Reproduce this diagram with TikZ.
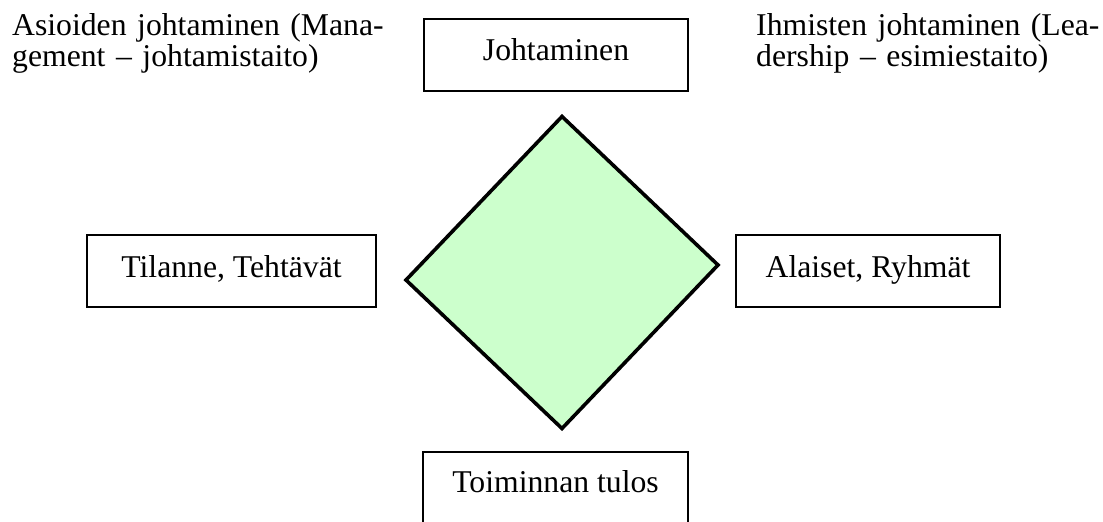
\documentclass[tikz,border=0pt]{standalone}
\usepackage{fontspec}
\setmainfont{Liberation Serif}
\definecolor{leafgreen}{HTML}{CCFFCC}
\begin{document}
\begin{tikzpicture}[x=1pt,y=-1pt,
  every node/.style={font=\fontsize{31.7}{31.7}\selectfont, inner sep=0pt},
  box/.style={draw=black, line width=2.3pt, minimum width=264pt, minimum height=0pt},
  sidebox/.style={box, text height=42pt, text depth=30pt},
  caption/.style={align=left, anchor=base west},
  rhomb/.style={draw=black, line width=3.6pt, fill=leafgreen, line join=miter}]
  \useasboundingbox (0,0) rectangle (1103,522);
  \clip (0,0) rectangle (1103,522);

  % central diamond
  \coordinate (dtop) at (562,116.5);
  \coordinate (dright) at (718,265);
  \coordinate (dbottom) at (562,428.5);
  \coordinate (dleft) at (406,280);
  \draw[rhomb] (dtop) -- (dright) -- (dbottom) -- (dleft) -- cycle;

  % boxes
  \node[box, text height=41.7pt, text depth=30.3pt, anchor=base] (lead) at (556,60.7) {Johtaminen};
  \node[sidebox, minimum width=289pt, anchor=base] (task) at (231.5,277) {Tilanne, Tehtävät};
  \node[sidebox, anchor=base] (team) at (868,277) {Alaiset, Ryhmät};
  \node[box, text height=40.7pt, text depth=32pt, minimum width=265pt, anchor=base] (result) at (555.5,492.7) {Toiminnan tulos};

  % corner captions
  \node[caption, text width=400pt] (mgmt) at (12,35) {Asioiden johtaminen (Mana-\\gement – johtamistaito)};
  \node[caption, text width=345pt] (ldr) at (756,35) {Ihmisten johtaminen (Lea-\\dership – esimiestaito)};
\end{tikzpicture}
\end{document}
